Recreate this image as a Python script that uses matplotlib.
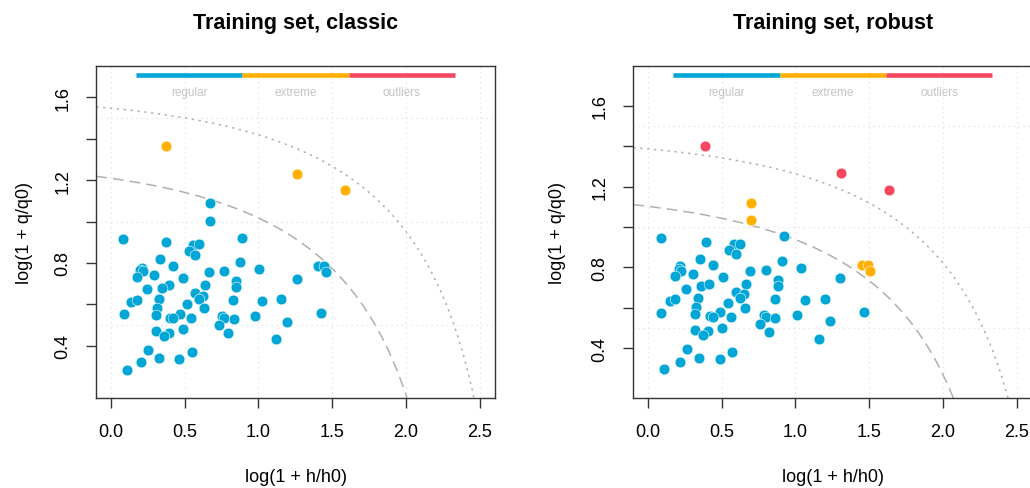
import numpy as np
import matplotlib
matplotlib.use("Agg")
import matplotlib.pyplot as plt

plt.rcParams['font.family'] = ['Liberation Sans', 'DejaVu Sans']

# classic: log(1 + h/h0), log(1 + q/q0)
cl_reg_x = [0.674, 0.672, 0.081, 0.375, 0.559, 0.599, 0.529, 0.572, 0.886, 0.332,
            0.418, 0.875, 0.208, 0.199, 0.217, 0.174, 0.292, 0.488, 0.665, 0.769,
            1.004, 1.407, 1.447, 1.459, 1.260, 0.396, 0.344, 0.638, 0.244, 0.850,
            0.846, 0.568, 0.624, 0.597, 0.138, 0.174, 0.323, 0.830, 1.024, 1.156,
            0.516, 0.314, 0.631, 0.086, 0.308, 0.470, 0.403, 0.423, 0.543, 0.753,
            0.769, 0.832, 0.975, 0.730, 1.194, 1.422, 0.305, 0.391, 0.357, 0.486,
            0.792, 1.122, 0.253, 0.206, 0.326, 0.461, 0.547, 0.106]
cl_reg_y = [1.088, 1.002, 0.917, 0.899, 0.888, 0.890, 0.856, 0.840, 0.922, 0.817,
            0.785, 0.807, 0.777, 0.764, 0.761, 0.730, 0.740, 0.727, 0.757, 0.762,
            0.770, 0.785, 0.785, 0.756, 0.722, 0.693, 0.680, 0.695, 0.672, 0.711,
            0.685, 0.653, 0.642, 0.625, 0.613, 0.622, 0.624, 0.621, 0.617, 0.624,
            0.600, 0.584, 0.580, 0.555, 0.548, 0.555, 0.534, 0.532, 0.532, 0.542,
            0.534, 0.529, 0.542, 0.500, 0.516, 0.558, 0.472, 0.463, 0.445, 0.481,
            0.460, 0.432, 0.381, 0.323, 0.342, 0.334, 0.368, 0.284]
cl_ext_x = [0.371, 1.264, 1.590]
cl_ext_y = [1.363, 1.229, 1.152]

# robust
rb_reg_x = [0.086, 0.391, 0.583, 0.626, 0.552, 0.599, 0.923, 0.351, 0.439, 0.909,
            0.219, 0.210, 0.226, 0.181, 0.305, 0.509, 0.692, 0.801, 1.040, 1.300,
            0.362, 0.414, 0.256, 0.667, 0.882, 0.882, 0.595, 0.649, 0.622, 0.147,
            0.185, 0.339, 0.864, 1.063, 1.199, 0.543, 0.328, 0.660, 0.086, 0.321,
            0.491, 0.423, 0.443, 0.565, 0.785, 0.798, 0.864, 1.013, 0.758, 1.232,
            1.465, 0.317, 0.409, 0.373, 0.504, 0.823, 1.160, 0.265, 0.217, 0.344,
            0.486, 0.570, 0.111]
rb_reg_y = [0.946, 0.928, 0.917, 0.918, 0.884, 0.867, 0.953, 0.842, 0.811, 0.834,
            0.806, 0.793, 0.784, 0.755, 0.765, 0.753, 0.783, 0.786, 0.796, 0.747,
            0.707, 0.717, 0.695, 0.718, 0.737, 0.710, 0.677, 0.666, 0.649, 0.633,
            0.644, 0.648, 0.644, 0.639, 0.646, 0.623, 0.603, 0.601, 0.575, 0.570,
            0.578, 0.557, 0.552, 0.552, 0.562, 0.553, 0.549, 0.563, 0.519, 0.534,
            0.578, 0.491, 0.483, 0.463, 0.499, 0.478, 0.448, 0.395, 0.334, 0.354,
            0.347, 0.380, 0.296]
rb_ext_x = [0.701, 0.701, 1.454, 1.493, 1.504]
rb_ext_y = [1.118, 1.034, 0.810, 0.812, 0.780]
rb_out_x = [0.387, 1.307, 1.637]
rb_out_y = [1.400, 1.265, 1.185]

# acceptance / outlier limits: q/q0 = a - b*h/h0
cl_lim = [(2.35, 0.34), (3.70, 0.33)]
rb_lim = [(2.01, 0.266), (3.00, 0.27)]

col_reg = '#00a6d6'
col_ext = '#ffb000'
col_out = '#f7465f'
grey = '#b0b0b0'


def limit_curve(ax, a, b, ls):
    x = np.linspace(-0.1, 3.0, 600)
    arg = 1 + a - b * (np.exp(x) - 1)
    ok = arg > 0
    ax.plot(x[ok], np.log(arg[ok]), color=grey, lw=1.1, ls=ls, zorder=1)


def panel(ax, title, ylim, groups, lims, ylab_x):
    ax.set_xlim(-0.1, 2.605)
    ax.set_ylim(*ylim)
    ax.set_xticks([0.0, 0.5, 1.0, 1.5, 2.0, 2.5])
    ax.set_xticklabels(['0.0', '0.5', '1.0', '1.5', '2.0', '2.5'])
    ax.set_yticks([0.4, 0.6, 0.8, 1.0, 1.2, 1.4, 1.6])
    ax.set_yticklabels(['0.4', '', '0.8', '', '1.2', '', '1.6'], rotation=90, va='center')
    ax.tick_params(length=7, width=1, pad=11, labelsize=13, color='#333333')
    for s in ax.spines.values():
        s.set_color('#333333')
        s.set_linewidth(1)
    for v in [0.0, 0.5, 1.0, 1.5, 2.0, 2.5]:
        ax.axvline(v, color='#e2e2e2', lw=0.9, ls=(0, (1, 3)), zorder=0)
    for v in [0.5, 1.0, 1.5]:
        ax.axhline(v, color='#e2e2e2', lw=0.9, ls=(0, (1, 3)), zorder=0)
    limit_curve(ax, lims[0][0], lims[0][1], (0, (7, 4)))
    limit_curve(ax, lims[1][0], lims[1][1], (0, (1.5, 3)))
    for xs, ys, c in groups:
        ax.scatter(xs, ys, s=60, color=c, edgecolors='white', linewidths=0.4, zorder=3)
    # legend bar
    for i, (c, lab) in enumerate([(col_reg, 'regular'), (col_ext, 'extreme'), (col_out, 'outliers')]):
        x0 = 0.1 + i * 0.8 / 3
        ax.plot([x0, x0 + 0.8 / 3], [0.975, 0.975], color=c, lw=3.3,
                solid_capstyle='butt', transform=ax.transAxes, clip_on=False)
        ax.text(x0 + 0.4 / 3, 0.922, lab, color='#c4c4c4', fontsize=8.5,
                ha='center', va='center', transform=ax.transAxes)
    ax.text(0.5, 1.133, title, transform=ax.transAxes, ha='center', va='center',
            fontsize=15.5, fontweight='bold')
    ax.set_xlabel('log(1 + h/h0)', fontsize=13, va='center')
    ax.set_ylabel('log(1 + q/q0)', fontsize=13, va='center')
    ax.xaxis.set_label_coords(0.5, -0.235)
    ax.yaxis.set_label_coords(ylab_x, 0.5)


fig = plt.figure(figsize=(10.30, 4.89), dpi=100)
ax1 = fig.add_axes([0.0935, 0.1834, 0.3871, 0.6789])
ax2 = fig.add_axes([0.6149, 0.1834, 0.3871, 0.6789])

panel(ax1, 'Training set, classic', (0.146, 1.75),
      [(cl_reg_x, cl_reg_y, col_reg), (cl_ext_x, cl_ext_y, col_ext)], cl_lim, -0.179)
panel(ax2, 'Training set, robust', (0.152, 1.795),
      [(rb_reg_x, rb_reg_y, col_reg), (rb_ext_x, rb_ext_y, col_ext),
       (rb_out_x, rb_out_y, col_out)], rb_lim, -0.189)

fig.savefig('out.png', dpi=100)
